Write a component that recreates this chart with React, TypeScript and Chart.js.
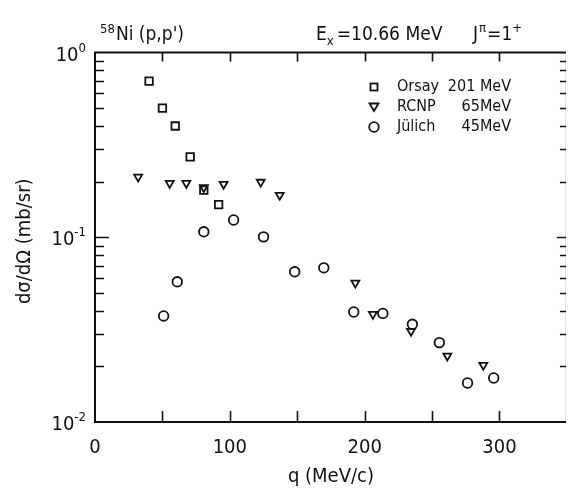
import React, { useEffect, useRef } from "react";
import { Chart, registerables } from "chart.js";

Chart.register(...registerables);

// ---- data ----
const orsayQ = [40.1, 50.0, 59.5, 70.6, 80.7, 91.7];
const orsayXS = [0.70, 0.50, 0.40, 0.272, 0.180, 0.150];

const rcnpQ = [32.0, 55.4, 67.7, 80.7, 95.4, 122.9, 137.0, 193.1, 206.1, 234.4, 261.3, 288.0];
const rcnpXS = [0.212, 0.196, 0.196, 0.186, 0.194, 0.199, 0.169, 0.0566, 0.0383, 0.031, 0.0228, 0.0203];

const julichQ = [50.9, 61.0, 80.7, 102.8, 125.0, 148.1, 169.7, 191.9, 213.5, 235.4, 255.4, 276.3, 295.7];
const julichXS = [0.0375, 0.0574, 0.107, 0.124, 0.1005, 0.065, 0.0683, 0.0394, 0.0387, 0.0338, 0.0269, 0.01626, 0.0173];

const xTickValues = [50, 100, 150, 200, 250, 300];
const xLabelValues = [0, 100, 200, 300];
const yMajorValues = [0.01, 0.1, 1];
const yMajorExponents = ["-2", "-1", "0"];

const legendNames = ["Orsay", "RCNP", "Jülich"];
const legendEnergies = ["201 MeV", "65MeV", "45MeV"];

const FONT = '"Liberation Sans Narrow", "DejaVu Sans Condensed", "Liberation Sans", sans-serif';
const INK = "#111";

const toPoints = (xs: number[], ys: number[]) => xs.map((x, i) => ({ x, y: ys[i] }));

const overlay = {
  id: "overlay",
  afterDraw(chart: any) {
    const ctx = chart.ctx as CanvasRenderingContext2D;
    const { left, right, top, bottom } = chart.chartArea;
    const xs = chart.scales.x;
    const ys = chart.scales.y;
    ctx.save();
    ctx.strokeStyle = INK;
    ctx.fillStyle = INK;
    ctx.lineWidth = 2;
    ctx.strokeRect(left, top, right - left, bottom - top);

    // x ticks (inside, top and bottom)
    ctx.lineWidth = 1.6;
    for (const v of xTickValues) {
      const px = Math.round(xs.getPixelForValue(v)) + 0.5;
      ctx.beginPath();
      ctx.moveTo(px, bottom);
      ctx.lineTo(px, bottom - 11);
      ctx.moveTo(px, top);
      ctx.lineTo(px, top + 9);
      ctx.stroke();
    }
    // y ticks (log minor + major)
    for (const d of [0.01, 0.1]) {
      for (let m = 1; m <= 9; m++) {
        const v = m * d;
        if (m === 1 && d === 0.01) continue;
        const py = Math.round(ys.getPixelForValue(v)) + 0.5;
        const major = m === 1;
        ctx.beginPath();
        ctx.moveTo(left, py);
        ctx.lineTo(left + (major ? 14 : 9), py);
        ctx.moveTo(right, py);
        ctx.lineTo(right - (major ? 10 : 7), py);
        ctx.stroke();
      }
    }

    // x tick labels
    ctx.font = `20px ${FONT}`;
    ctx.textAlign = "center";
    ctx.textBaseline = "middle";
    for (const v of xLabelValues) {
      ctx.fillText(String(v), xs.getPixelForValue(v), bottom + 26);
    }

    // y tick labels 10^n
    yMajorValues.forEach((v, i) => {
      const py = ys.getPixelForValue(v);
      const exp = yMajorExponents[i];
      ctx.font = `13px ${FONT}`;
      const ew = ctx.measureText(exp).width;
      const endX = left - 9;
      ctx.textAlign = "left";
      ctx.textBaseline = "alphabetic";
      ctx.fillText(exp, endX - ew, py - 1);
      ctx.font = `20px ${FONT}`;
      ctx.textAlign = "right";
      ctx.fillText("10", endX - ew, py + 8);
    });

    // axis titles
    ctx.font = `20px ${FONT}`;
    ctx.textAlign = "center";
    ctx.textBaseline = "middle";
    ctx.fillText("q (MeV/c)", (left + right) / 2, bottom + 55);
    ctx.save();
    ctx.translate(17, (top + bottom) / 2 + 4);
    ctx.rotate(-Math.PI / 2);
    ctx.fillText("dσ/dΩ (mb/sr)", 0, 0);
    ctx.restore();

    // header
    ctx.textAlign = "left";
    ctx.textBaseline = "alphabetic";
    let hx = 92;
    const hy = 32;
    ctx.font = `13px ${FONT}`;
    ctx.fillText("58", hx, hy - 7);
    hx += ctx.measureText("58").width + 1;
    ctx.font = `19px ${FONT}`;
    ctx.fillText("Ni (p,p')", hx, hy);

    let ex = 308;
    ctx.font = `19px ${FONT}`;
    ctx.fillText("E", ex, hy);
    ex += ctx.measureText("E").width;
    ctx.font = `13px ${FONT}`;
    ctx.fillText("x", ex, hy + 5);
    ex += ctx.measureText("x").width + 3;
    ctx.font = `19px ${FONT}`;
    ctx.fillText("=10.66 MeV", ex, hy);

    let jx = 465;
    ctx.fillText("J", jx, hy);
    jx += ctx.measureText("J").width + 1;
    ctx.font = `13px ${FONT}`;
    ctx.fillText("π", jx, hy - 8);
    jx += ctx.measureText("π").width + 1;
    ctx.font = `19px ${FONT}`;
    ctx.fillText("=1", jx, hy);
    jx += ctx.measureText("=1").width;
    ctx.font = `13px ${FONT}`;
    ctx.fillText("+", jx, hy - 8);

    // legend markers
    const rowY = [79, 99, 119];
    const mx = 366;
    ctx.lineWidth = 1.8;
    ctx.strokeRect(mx - 3.5, rowY[0] - 3.5, 7, 7);
    ctx.beginPath();
    ctx.moveTo(mx - 4.5, rowY[1] - 3.5);
    ctx.lineTo(mx + 4.5, rowY[1] - 3.5);
    ctx.lineTo(mx, rowY[1] + 4);
    ctx.closePath();
    ctx.stroke();
    ctx.beginPath();
    ctx.arc(mx, rowY[2], 4.8, 0, Math.PI * 2);
    ctx.stroke();

    ctx.font = `16px ${FONT}`;
    ctx.textBaseline = "middle";
    legendNames.forEach((n, i) => {
      ctx.textAlign = "left";
      ctx.fillText(n, 389, rowY[i]);
      ctx.textAlign = "right";
      ctx.fillText(legendEnergies[i], 503, rowY[i]);
    });
    ctx.restore();
  },
};

export default function App() {
  const ref = useRef<HTMLCanvasElement | null>(null);
  useEffect(() => {
    if (!ref.current) return;
    const common = {
      showLine: false,
      borderColor: INK,
      backgroundColor: "rgba(255,255,255,0)",
      pointBorderWidth: 1.8,
      pointRadius: 5,
    };
    const chart = new Chart(ref.current, {
      type: "scatter",
      data: {
        datasets: [
          { ...common, label: "Orsay 201 MeV", data: toPoints(orsayQ, orsayXS), pointStyle: "rect", pointRadius: 5.3 },
          { ...common, label: "RCNP 65MeV", data: toPoints(rcnpQ, rcnpXS), pointStyle: "triangle", pointRotation: 180, pointRadius: 4.6 },
          { ...common, label: "Jülich 45MeV", data: toPoints(julichQ, julichXS), pointStyle: "circle", pointRadius: 4.8 },
        ],
      },
      options: {
        animation: false,
        responsive: false,
        devicePixelRatio: 1,
        layout: { padding: { top: 44.5, right: 2, left: 0, bottom: 0 } },
        plugins: { legend: { display: false }, tooltip: { enabled: false }, title: { display: false } },
        scales: {
          x: {
            type: "linear",
            min: 0,
            max: 350,
            ticks: { display: false },
            grid: { display: false },
            border: { display: false },
            afterFit: (s: any) => { s.height = 70; },
          },
          y: {
            type: "logarithmic",
            min: 0.01,
            max: 1,
            ticks: { display: false },
            grid: { display: false },
            border: { display: false },
            afterFit: (s: any) => { s.width = 87; },
          },
        },
      },
      plugins: [overlay],
    } as any);
    return () => chart.destroy();
  }, []);
  return <canvas ref={ref} width={566} height={484} style={{ display: "block", width: 566, height: 484 }} />;
}
